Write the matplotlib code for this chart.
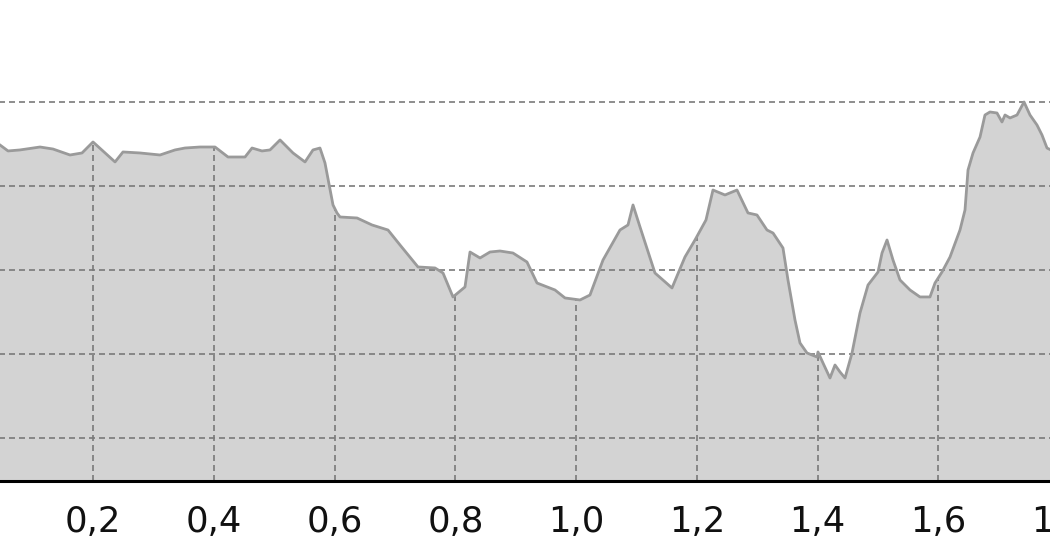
import numpy as np
import matplotlib
matplotlib.use("Agg")
import matplotlib.pyplot as plt
from matplotlib.ticker import FuncFormatter

# distance (x) and elevation-like value (y)
dist = [0.0404, 0.0454, 0.0587, 0.0785, 0.1117, 0.1332, 0.1614, 0.1813, 0.1995, 0.2360,
        0.2492, 0.2774, 0.3105, 0.3354, 0.3519, 0.3768, 0.4017, 0.4232, 0.4514, 0.4630,
        0.4795, 0.4928, 0.5094, 0.5309, 0.5508, 0.5640, 0.5756, 0.5839, 0.5972, 0.6038,
        0.6088, 0.6370, 0.6618, 0.6883, 0.7082, 0.7380, 0.7662, 0.7795, 0.7960, 0.8159,
        0.8242, 0.8408, 0.8573, 0.8739, 0.8954, 0.9186, 0.9352, 0.9650, 0.9816, 1.0065,
        1.0230, 1.0446, 1.0727, 1.0860, 1.0943, 1.1059, 1.1307, 1.1589, 1.1804, 1.1970,
        1.2152, 1.2268, 1.2467, 1.2666, 1.2848, 1.2997, 1.3163, 1.3263, 1.3428, 1.3511,
        1.3627, 1.3710, 1.3826, 1.3992, 1.4008, 1.4091, 1.4207, 1.4290, 1.4373, 1.4456,
        1.4572, 1.4704, 1.4837, 1.5003, 1.5069, 1.5152, 1.5251, 1.5367, 1.5533, 1.5698,
        1.5864, 1.5947, 1.6063, 1.6196, 1.6361, 1.6444, 1.6494, 1.6577, 1.6693, 1.6775,
        1.6858, 1.6974, 1.7057, 1.7107, 1.7190, 1.7306, 1.7422, 1.7521, 1.7637, 1.7720,
        1.7803, 1.7935]
elev = [45.12, 44.88, 44.17, 44.29, 44.64, 44.40, 43.69, 43.93, 45.24, 42.86,
        44.05, 43.93, 43.69, 44.29, 44.52, 44.64, 44.64, 43.45, 43.45, 44.52,
        44.17, 44.29, 45.48, 43.93, 42.86, 44.29, 44.52, 42.74, 37.74, 36.79,
        36.31, 36.19, 35.36, 34.76, 32.98, 30.36, 30.24, 29.64, 26.79, 27.98,
        32.14, 31.43, 32.14, 32.26, 32.02, 30.95, 28.45, 27.62, 26.67, 26.43,
        27.02, 31.19, 34.76, 35.36, 37.74, 35.12, 29.64, 27.86, 31.55, 33.57,
        35.95, 39.52, 38.93, 39.52, 36.79, 36.55, 34.76, 34.40, 32.62, 28.81,
        24.05, 21.31, 20.12, 19.64, 20.24, 18.93, 17.14, 18.69, 17.86, 17.14,
        20.12, 24.88, 28.21, 29.76, 32.02, 33.57, 31.19, 28.81, 27.62, 26.79,
        26.79, 28.45, 29.76, 31.55, 34.76, 37.14, 41.90, 43.93, 45.83, 48.45,
        48.81, 48.69, 47.62, 48.45, 48.10, 48.45, 50.00, 48.45, 47.26, 46.07,
        44.52, 44.05]
x_ticks = [0.2, 0.4, 0.6, 0.8, 1.0, 1.2, 1.4, 1.6, 1.8]
y_grid = [10, 20, 30, 40, 50]

x = np.array(dist)
y = np.array(elev)

W, H = 1050, 560
fig = plt.figure(figsize=(W / 100, H / 100), dpi=100)

# axes extends slightly beyond figure edges (cropped view)
px_left, px_right = -27.4, 1058.9
px_bottom_from_top = 481
ax = fig.add_axes([px_left / W, (H - px_bottom_from_top) / H,
                   (px_right - px_left) / W, px_bottom_from_top / H])
ymin, ymax = 4.88, 62.14
ax.set_xlim(0.0, 1.8)
ax.set_ylim(ymin, ymax)

ax.fill_between(x, ymin, y, color="#d3d3d3", lw=0, zorder=1)

# horizontal dashed grid across the whole width
for g in y_grid:
    ax.axhline(g, color="#7a7a7a", lw=1.2, ls=(0, (3.6, 2.4)), zorder=2)

# vertical dashed drop lines from the curve at each tick
for t in x_ticks:
    if x.min() <= t <= x.max():
        ax.vlines(t, ymin, np.interp(t, x, y), color="#7a7a7a", lw=1.2,
                  ls=(0, (3.6, 2.4)), zorder=2)

ax.plot(x, y, color="#9a9a9a", lw=2.0, zorder=3, solid_joinstyle="round")

ax.set_xticks(x_ticks)
ax.xaxis.set_major_formatter(FuncFormatter(lambda v, p: f"{v:.1f}".replace(".", ",")))
ax.set_yticks([])
ax.tick_params(axis="x", length=0, pad=17.5, labelsize=25.5, labelcolor="#111111")
for s in ["top", "left", "right"]:
    ax.spines[s].set_visible(False)
ax.spines["bottom"].set_linewidth(2.2)
ax.spines["bottom"].set_color("black")
ax.spines["bottom"].set_zorder(4)
ax.patch.set_alpha(0)

fig.savefig("out.png", dpi=100)
